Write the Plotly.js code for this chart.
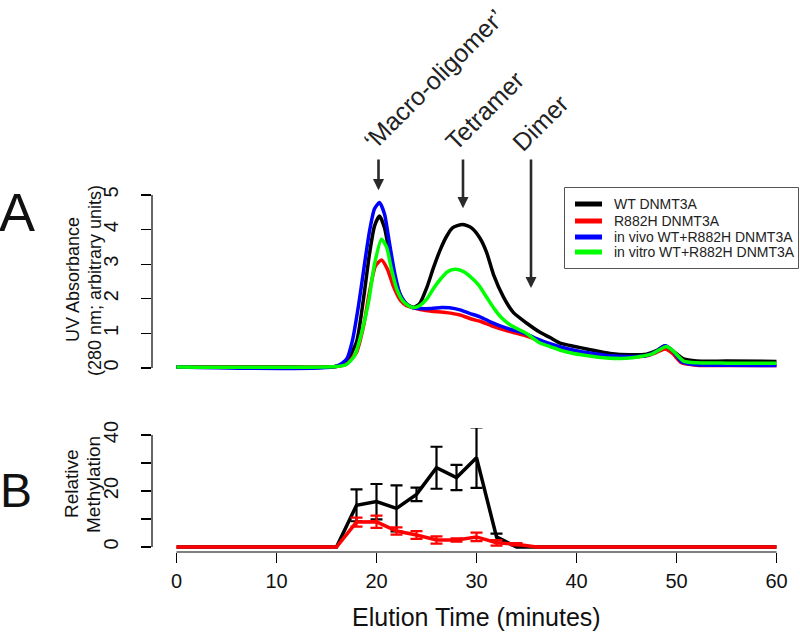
<!DOCTYPE html>
<html><head><meta charset="utf-8">
<script src="https://cdn.plot.ly/plotly-3.0.1.min.js"></script>
<style>html,body{margin:0;padding:0;background:#fff}#chart{width:800px;height:632px}</style>
</head><body><div id="chart"></div>
<script>
// ---------- data ----------
const seriesNames = ['WT DNMT3A', 'R882H DNMT3A', 'in vivo WT+R882H DNMT3A', 'in vitro WT+R882H DNMT3A'];

// Panel A: UV absorbance (280 nm) vs elution time (minutes)
const wtTime = [0, 10, 16, 17, 18, 18.7, 19.3, 19.8, 20.3, 20.8, 21.3, 21.8, 22.4, 23, 23.7, 24.3, 25, 25.7, 26.35, 27, 27.6, 28.6, 29.5, 30.35, 31, 31.7, 32.7, 33.7, 35, 36.35, 37.35, 38.35, 39.35, 40.5, 41.5, 43.35, 45.35, 47, 48, 48.85, 49.6, 50.7, 52, 55, 60];
const wtUV   = [0.03, 0.03, 0.05, 0.2, 0.75, 2.0, 3.3, 4.1, 4.39, 4.05, 3.3, 2.6, 2.1, 1.85, 1.75, 1.85, 2.3, 2.9, 3.4, 3.8, 4.05, 4.15, 4.05, 3.75, 3.35, 2.7, 2.05, 1.6, 1.3, 1.03, 0.88, 0.72, 0.65, 0.58, 0.52, 0.42, 0.38, 0.4, 0.5, 0.64, 0.5, 0.26, 0.2, 0.2, 0.19];

const r882Time = [0, 16, 17, 18, 18.7, 19.3, 19.9, 20.5, 21.1, 21.7, 22.4, 23, 23.7, 24.5, 25.5, 27, 28.35, 29.65, 30.35, 31.5, 33, 34.7, 36, 37.35, 38.5, 40, 41.35, 43, 45.35, 47, 48, 48.85, 49.6, 50.5, 52, 55, 60];
const r882UV   = [0.03, 0.04, 0.12, 0.45, 1.2, 2.2, 2.95, 3.12, 2.85, 2.35, 1.95, 1.8, 1.74, 1.68, 1.64, 1.6, 1.53, 1.4, 1.35, 1.22, 1.08, 0.95, 0.82, 0.68, 0.58, 0.48, 0.42, 0.35, 0.32, 0.35, 0.45, 0.55, 0.42, 0.15, 0.08, 0.07, 0.07];

const vivoTime = [0, 16, 17, 17.6, 18.2, 18.75, 19.3, 19.8, 20.3, 20.8, 21.3, 21.85, 22.4, 23, 23.7, 24.3, 25.5, 26.5, 27.3, 28.35, 29.3, 30.35, 31.5, 33, 35, 36, 37.35, 38.5, 40, 41.35, 43, 45.35, 47, 48, 48.85, 49.6, 50.5, 52, 55, 60];
const vivoUV   = [0.03, 0.05, 0.25, 0.8, 1.8, 2.9, 3.95, 4.6, 4.78, 4.45, 3.6, 2.7, 2.1, 1.85, 1.74, 1.72, 1.72, 1.75, 1.74, 1.68, 1.58, 1.48, 1.32, 1.15, 0.98, 0.85, 0.7, 0.6, 0.5, 0.43, 0.36, 0.33, 0.36, 0.48, 0.64, 0.5, 0.18, 0.09, 0.08, 0.07];

const vitroTime = [0, 16, 17, 17.8, 18.5, 19.2, 19.8, 20.5, 21, 21.5, 22, 22.6, 23.2, 23.7, 24.3, 25, 25.7, 26.35, 27.1, 27.85, 28.6, 29.35, 30.2, 31, 31.8, 32.5, 33.5, 35, 36.35, 37.35, 38.5, 39.7, 41.5, 43, 45, 46.35, 47.5, 49, 49.7, 50.7, 52, 55, 60];
const vitroUV   = [0.03, 0.04, 0.1, 0.35, 1.0, 1.9, 3.0, 3.72, 3.5, 2.85, 2.3, 1.95, 1.8, 1.75, 1.8, 1.98, 2.3, 2.55, 2.78, 2.85, 2.8, 2.65, 2.4, 2.05, 1.7, 1.45, 1.22, 1.0, 0.72, 0.62, 0.5, 0.42, 0.34, 0.29, 0.28, 0.33, 0.4, 0.62, 0.48, 0.2, 0.15, 0.14, 0.14];

// Panel B: relative methylation of collected fractions
const methTime    = [0, 16, 18, 20, 22, 24, 26, 28, 30, 32, 34, 36, 60];
const wtMeth      = [0, 0, 14.9, 16.2, 13.8, 18.8, 28.3, 24.8, 31.9, 3.6, 0, 0, 0];
const wtMethErr   = [NaN, NaN, 5.7, 6.3, 8.2, 2.4, 7.5, 4.5, 10.8, 1.2, NaN, NaN, NaN];
const r882Meth    = [0, 0, 8.9, 9.0, 5.7, 4.3, 2.5, 2.5, 3.6, 1.5, 1.0, 0, 0];
const r882MethErr = [NaN, NaN, 1.6, 2.2, 1.3, 1.4, 1.3, 0.6, 1.5, 1.0, 0.4, NaN, NaN];

// Peak annotations
const peakLabels = ['\u2018Macro-oligomer\u2019', 'Tetramer', 'Dimer'];
const peakTimes  = [20.2, 28.65, 35.45];
const peakHeads  = [5.14, 4.62, 2.31];

const xTicks = [0, 10, 20, 30, 40, 50, 60];

// ---------- styling ----------
const colors = ['#000000', '#ff0000', '#0000ff', '#00ff00'];
const FONT = 'Liberation Sans, Arial, Helvetica, sans-serif';
const W = 800, H = 632;
const px = v => v / W;            // pixel x -> paper
const py = v => (H - v) / H;      // pixel y -> paper

const uvSets = [[wtTime, wtUV], [r882Time, r882UV], [vivoTime, vivoUV], [vitroTime, vitroUV]];
const traces = uvSets.map((s, i) => ({
  x: s[0], y: s[1], type: 'scatter', mode: 'lines', name: seriesNames[i],
  line: {color: colors[i], width: 3.5, shape: 'spline', smoothing: 0.6},
  xaxis: 'x', yaxis: 'y', showlegend: false
}));
traces.push({
  x: methTime, y: wtMeth, type: 'scatter', mode: 'lines', name: seriesNames[0],
  line: {color: colors[0], width: 3.5},
  error_y: {type: 'data', array: wtMethErr, visible: true, color: colors[0], thickness: 2.2, width: 6},
  xaxis: 'x', yaxis: 'y2', showlegend: false
});
traces.push({
  x: methTime, y: r882Meth, type: 'scatter', mode: 'lines', name: seriesNames[1],
  line: {color: colors[1], width: 3.5},
  error_y: {type: 'data', array: r882MethErr, visible: true, color: colors[1], thickness: 2.2, width: 6},
  xaxis: 'x', yaxis: 'y2', showlegend: false
});

const shapes = [
  // axis lines (R style: only from first to last tick)
  {type: 'line', xref: 'x', yref: 'paper', x0: 0, x1: 60, y0: py(552), y1: py(552), line: {color: '#000', width: 1.2}},
  {type: 'line', xref: 'paper', yref: 'y', x0: px(152), x1: px(152), y0: 0, y1: 5, line: {color: '#000', width: 1.2}},
  {type: 'line', xref: 'paper', yref: 'y2', x0: px(152), x1: px(152), y0: 0, y1: 40, line: {color: '#000', width: 1.2}},
  // legend box
  {type: 'rect', xref: 'paper', yref: 'paper', x0: px(564.5), x1: px(798.5), y0: py(187.5), y1: py(268.5), line: {color: '#555', width: 1}, fillcolor: '#fff', layer: 'above'}
];
const legendRows = [204, 221, 237, 252];
const annotations = [];
seriesNames.forEach((n, i) => {
  shapes.push({type: 'line', xref: 'paper', yref: 'paper', x0: px(575), x1: px(602), y0: py(legendRows[i]), y1: py(legendRows[i]), line: {color: colors[i], width: 5}, layer: 'above'});
  annotations.push({xref: 'paper', yref: 'paper', x: px(612), y: py(legendRows[i]), text: n, showarrow: false, xanchor: 'left', yanchor: 'middle', font: {family: FONT, size: 14, color: '#222'}});
});

// arrows
peakTimes.forEach((t, i) => {
  annotations.push({xref: 'x', yref: 'y', x: t, y: peakHeads[i], axref: 'x', ayref: 'y', ax: t, ay: 6.07,
    text: '', showarrow: true, arrowhead: 2, arrowsize: 0.85, arrowwidth: 2.6, arrowcolor: '#2a2a2a'});
});
// rotated peak labels
const labelCenters = [[434, 79], [485, 110], [540, 123]];
peakLabels.forEach((l, i) => {
  annotations.push({xref: 'paper', yref: 'paper', x: px(labelCenters[i][0]), y: py(labelCenters[i][1]), text: l,
    showarrow: false, textangle: -45, xanchor: 'center', yanchor: 'middle', font: {family: FONT, size: 25, color: '#222'}});
});
// panel letters
annotations.push({xref: 'paper', yref: 'paper', x: px(17), y: py(212), text: 'A', showarrow: false, xanchor: 'center', yanchor: 'middle', font: {family: FONT, size: 54, color: '#111'}});
annotations.push({xref: 'paper', yref: 'paper', x: px(16), y: py(490), text: 'B', showarrow: false, xanchor: 'center', yanchor: 'middle', font: {family: FONT, size: 48, color: '#111'}});
// axis titles
const yTitles = [['UV Absorbance', 73, 280, 18], ['(280 nm; arbitrary units)', 95, 281, 18], ['Relative', 71, 484, 19], ['Methylation', 93, 485, 19]];
yTitles.forEach(t => annotations.push({xref: 'paper', yref: 'paper', x: px(t[1]), y: py(t[2]), text: t[0], showarrow: false, textangle: -90, xanchor: 'center', yanchor: 'middle', font: {family: FONT, size: t[3], color: '#111'}}));
annotations.push({xref: 'paper', yref: 'paper', x: px(476.5), y: py(617), text: 'Elution Time (minutes)', showarrow: false, xanchor: 'center', yanchor: 'middle', font: {family: FONT, size: 25, color: '#111'}});

const layout = {
  width: W, height: H,
  margin: {l: 0, r: 0, t: 0, b: 0},
  paper_bgcolor: '#fff', plot_bgcolor: 'rgba(0,0,0,0)',
  showlegend: false,
  font: {family: FONT, color: '#111'},
  xaxis: {domain: [px(152), 1], range: [-2.45, 62.35], anchor: 'y2', showgrid: false, zeroline: false, showline: false,
    tickmode: 'array', tickvals: xTicks, ticktext: xTicks.map(String), ticks: 'outside', ticklen: 10, tickwidth: 1.2, tickcolor: '#000',
    tickfont: {family: FONT, size: 20, color: '#111'}, ticklabelstandoff: 1},
  yaxis: {domain: [py(374.9), py(184.6)], range: [-0.2, 5.3], anchor: 'x', showgrid: false, zeroline: false, showline: false,
    tickmode: 'array', tickvals: [0, 1, 2, 3, 4, 5], ticktext: ['0', '1', '2', '3', '4', '5'], ticks: 'outside', ticklen: 10, tickwidth: 1.2, tickcolor: '#000',
    tickangle: -90, tickfont: {family: FONT, size: 20, color: '#111'}, ticklabelstandoff: 15},
  yaxis2: {domain: [py(552.04), py(428)], range: [-1.8, 42.5], anchor: 'x', showgrid: false, zeroline: false, showline: false,
    tickmode: 'array', tickvals: [0, 10, 20, 30, 40], ticktext: ['0', '', '20', '', '40'], ticks: 'outside', ticklen: 10, tickwidth: 1.2, tickcolor: '#000',
    tickangle: -90, tickfont: {family: FONT, size: 20, color: '#111'}, ticklabelstandoff: 15},
  shapes: shapes,
  annotations: annotations
};

Plotly.newPlot('chart', traces, layout, {staticPlot: true, displayModeBar: false});
</script>
</body></html>
